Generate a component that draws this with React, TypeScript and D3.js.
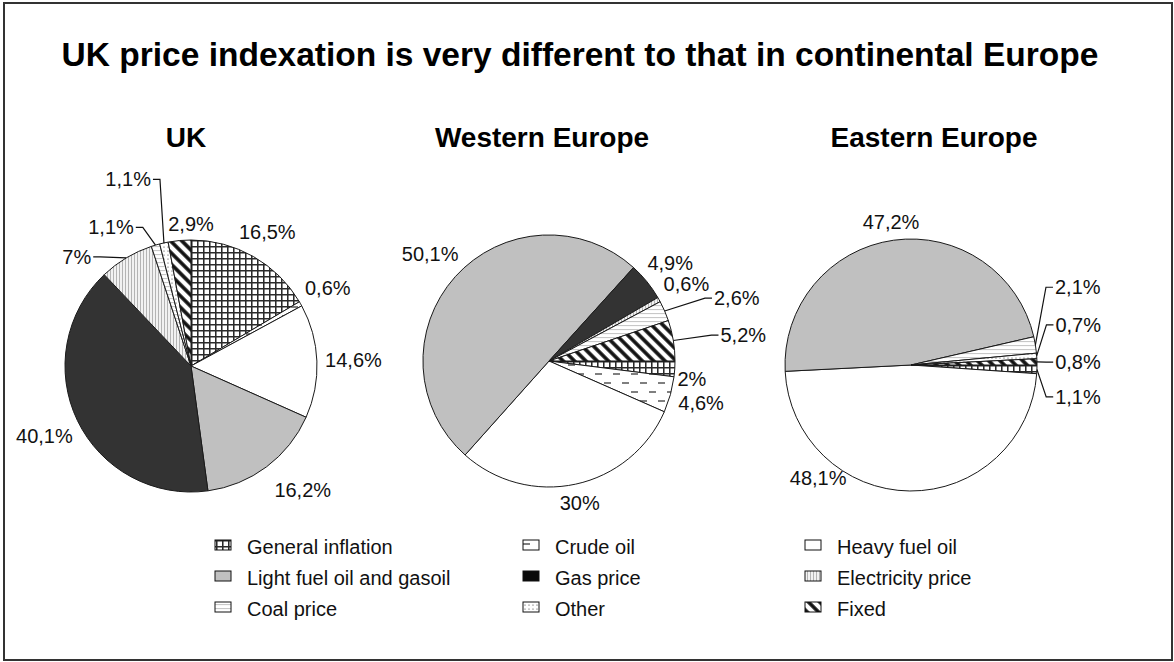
import * as d3 from 'd3'

// ---- data ----
const categories = [
  'General inflation',
  'Crude oil',
  'Heavy fuel oil',
  'Light fuel oil and gasoil',
  'Gas price',
  'Electricity price',
  'Coal price',
  'Other',
  'Fixed',
]
const ukValues = [16.5, 0.6, 14.6, 16.2, 40.1, 7, 1.1, 1.1, 2.9]
const westValues = [2, 4.6, 30, 50.1, 4.9, 0.6, 2.6, 0, 5.2]
const eastValues = [1.1, 0, 48.1, 47.2, 0, 0, 2.1, 0.7, 0.8]
const pieTitles = ['UK', 'Western Europe', 'Eastern Europe']
const chartTitle = 'UK price indexation is very different to that in continental Europe'

// ---- layout / style ----
const W = 1174
const H = 662
const R = 126
const FONT = '"Liberation Sans", Arial, Helvetica, sans-serif'
const LABEL_SIZE = 20

const fills = [
  'url(#p-grid)',
  'url(#p-dash)',
  '#ffffff',
  '#c0c0c0',
  '#333333',
  'url(#p-vert)',
  'url(#p-horiz)',
  'url(#p-dots)',
  'url(#p-diag)',
]
// legend swatches are drawn a touch darker for the solid gas fill
const legendFills = fills.map((f, i) => (i === 4 ? '#0a0a0a' : f))

type Override = { angle: number; dist: number; leader?: boolean }

const pieLayout = [
  {
    values: ukValues, cx: 191, cy: 366, start: 0, titleX: 186,
    overrides: {
      3: { angle: 138, dist: 167 },
      5: { angle: 313.7, dist: 158, leader: true },
      6: { angle: 330, dist: 160, leader: true },
      7: { angle: 341.4, dist: 197, leader: true },
      8: { angle: 0, dist: 142 },
    } as Record<number, Override>,
  },
  {
    values: westValues, cx: 549, cy: 361, start: Math.PI / 2, titleX: 542,
    overrides: {
      0: { angle: 97, dist: 144 },
      6: { angle: 71.5, dist: 198, leader: true },
      8: { angle: 82.4, dist: 196, leader: true },
    } as Record<number, Override>,
  },
  {
    values: eastValues, cx: 911, cy: 365, start: Math.PI / 2, titleX: 934,
    overrides: {
      0: { angle: 100.8, dist: 170, leader: true },
      2: { angle: 219.5, dist: 146 },
      6: { angle: 65, dist: 184, leader: true },
      7: { angle: 76.5, dist: 172, leader: true },
      8: { angle: 89, dist: 167, leader: true },
    } as Record<number, Override>,
  },
]

const fmt = (v: number) => `${String(v).replace('.', ',')}%`

const charW: Record<string, number> = { ',': 0.278, '%': 0.889 }
const textWidth = (s: string) =>
  s.split('').reduce((a, c) => a + (charW[c] ?? 0.556), 0) * LABEL_SIZE

const polar = (cx: number, cy: number, a: number, d: number): [number, number] => [
  cx + Math.sin(a) * d,
  cy - Math.cos(a) * d,
]

const Pie = ({ layout }: { layout: (typeof pieLayout)[number] }) => {
  const { values, cx, cy, start, overrides } = layout
  const pie = d3
    .pie<number>()
    .sort(null)
    .value((d) => d)
    .startAngle(start)
    .endAngle(start + 2 * Math.PI)
  const arcs = pie(values)
  const arc = d3.arc<d3.PieArcDatum<number>>().innerRadius(0).outerRadius(R)

  return (
    <g>
      <g transform={`translate(${cx},${cy})`}>
        {arcs
          .filter((a) => a.value > 0)
          .map((a) => (
            <path
              key={a.index}
              d={arc(a) ?? ''}
              fill={fills[a.index]}
              stroke="#1a1a1a"
              strokeWidth={1}
            />
          ))}
      </g>
      {arcs
        .filter((a) => a.value > 0)
        .map((a) => {
          const text = fmt(a.value)
          const w = textWidth(text)
          const mid = (a.startAngle + a.endAngle) / 2
          const ov = overrides[a.index]
          let lx: number
          let ly: number
          if (ov) {
            ;[lx, ly] = polar(cx, cy, (ov.angle * Math.PI) / 180, ov.dist)
          } else {
            const sx = Math.abs(Math.sin(mid))
            const sy = Math.abs(Math.cos(mid))
            const d = R + 8 + sx * (w / 2) + sy * 7
            ;[lx, ly] = polar(cx, cy, mid, d)
          }
          let leader = null
          if (ov?.leader) {
            const [ax, ay] = polar(cx, cy, mid, R)
            const side = lx > ax ? 1 : -1
            const sX = lx - side * (w / 2 + 2)
            const tX = sX - side * 7
            leader = (
              <path
                d={`M${sX},${ly}L${tX},${ly}L${ax},${ay}`}
                fill="none"
                stroke="#111"
                strokeWidth={1.2}
              />
            )
          }
          return (
            <g key={a.index}>
              {leader}
              <text
                x={lx}
                y={ly}
                dy="0.35em"
                textAnchor="middle"
                fontSize={LABEL_SIZE}
                fill="#111"
              >
                {text}
              </text>
            </g>
          )
        })}
    </g>
  )
}

export default function App() {
  const colX = [215, 523, 805]
  const rowY = [547, 578, 609]

  return (
    <svg
      width={W}
      height={H}
      viewBox={`0 0 ${W} ${H}`}
      style={{ position: 'absolute', left: 0, top: 0, background: '#fff' }}
      fontFamily={FONT}
    >
      <defs>
        <pattern id="p-grid" width={6} height={6} patternUnits="userSpaceOnUse">
          <rect width={6} height={6} fill="#fff" />
          <path d="M0,0.75H6M0.75,0V6" stroke="#2a2a2a" strokeWidth={1.6} />
        </pattern>
        <pattern id="p-dash" width={18} height={18} patternUnits="userSpaceOnUse">
          <rect width={18} height={18} fill="#fff" />
          <path d="M1,4H8M10,13H17" stroke="#555" strokeWidth={1.6} />
        </pattern>
        <pattern id="p-vert" width={3} height={3} patternUnits="userSpaceOnUse">
          <rect width={3} height={3} fill="#f2f2f2" />
          <path d="M0.5,0V3" stroke="#b4b4b4" strokeWidth={1} />
        </pattern>
        <pattern id="p-horiz" width={4} height={4} patternUnits="userSpaceOnUse">
          <rect width={4} height={4} fill="#fff" />
          <path d="M0,0.5H4" stroke="#c8c8c8" strokeWidth={1.2} />
        </pattern>
        <pattern id="p-dots" width={4} height={4} patternUnits="userSpaceOnUse">
          <rect width={4} height={4} fill="#fff" />
          <circle cx={1} cy={1} r={0.6} fill="#333" />
        </pattern>
        <pattern
          id="p-diag"
          width={8}
          height={8}
          patternUnits="userSpaceOnUse"
          patternTransform="rotate(-45)"
        >
          <rect width={8} height={8} fill="#fff" />
          <path d="M2,0V8" stroke="#111" strokeWidth={3.6} />
        </pattern>
      </defs>

      <rect x={4} y={3} width={1168} height={657} fill="#fff" stroke="#333" strokeWidth={2} />

      <text
        x={580}
        y={66}
        textAnchor="middle"
        fontSize={33.5}
        fontWeight="bold"
        fill="#000"
      >
        {chartTitle}
      </text>

      {pieLayout.map((p, i) => (
        <text
          key={pieTitles[i]}
          x={p.titleX}
          y={147}
          textAnchor="middle"
          fontSize={28}
          fontWeight="bold"
          fill="#000"
        >
          {pieTitles[i]}
        </text>
      ))}

      {pieLayout.map((p, i) => (
        <Pie key={pieTitles[i]} layout={p} />
      ))}

      <g>
        {categories.map((c, i) => {
          const x = colX[i % 3]
          const y = rowY[Math.floor(i / 3)]
          return (
            <g key={c}>
              <rect
                x={x}
                y={y - 7}
                width={16}
                height={10}
                fill={legendFills[i]}
                stroke="#111"
                strokeWidth={1}
              />
              <text x={x + 32} y={y} dy="0.35em" fontSize={LABEL_SIZE} fill="#111">
                {c}
              </text>
            </g>
          )
        })}
      </g>
    </svg>
  )
}
